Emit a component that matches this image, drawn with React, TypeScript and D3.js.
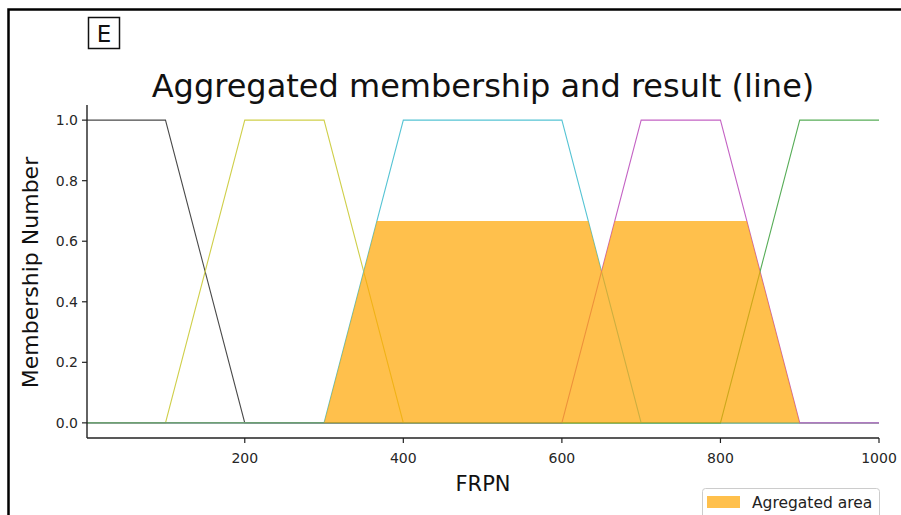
import React from "react";
import * as d3 from "d3";

// Membership functions (FRPN universe)
const lowX = [1, 100, 200, 1000];
const lowY = [1, 1, 0, 0];
const lowMidX = [1, 100, 200, 300, 400, 1000];
const lowMidY = [0, 0, 1, 1, 0, 0];
const midX = [1, 300, 400, 600, 700, 1000];
const midY = [0, 0, 1, 1, 0, 0];
const highMidX = [1, 600, 700, 800, 900, 1000];
const highMidY = [0, 0, 1, 1, 0, 0];
const highX = [1, 800, 900, 1000];
const highY = [0, 0, 1, 1];

// Aggregated area
const aggX = [300, 366.7, 633.3, 650, 666.7, 833.3, 900];
const aggY = [0, 0.667, 0.667, 0.5, 0.667, 0.667, 0];

const xTicks = [200, 400, 600, 800, 1000];
const yTicks = [0, 0.2, 0.4, 0.6, 0.8, 1.0];

const series = [
  { xs: lowX, ys: lowY, color: "#4a4a4a" },
  { xs: lowMidX, ys: lowMidY, color: "#cfcf4a" },
  { xs: midX, ys: midY, color: "#56c4d4" },
  { xs: highMidX, ys: highMidY, color: "#c463c4" },
  { xs: highX, ys: highY, color: "#58ad58" },
];

export default function App() {
  const W = 901, H = 515;
  const left = 87, right = 879, top = 105, bottom = 438;
  const x = d3.scaleLinear().domain([1, 1000]).range([left, right]);
  const y = d3.scaleLinear().domain([-0.05, 1.05]).range([bottom, top]);
  const line = d3.line<[number, number]>().x((d) => x(d[0])).y((d) => y(d[1]));
  const area = d3
    .area<[number, number]>()
    .x((d) => x(d[0]))
    .y0(() => y(0))
    .y1((d) => y(d[1]));
  const font = "DejaVu Sans";
  const cx = (left + right) / 2;

  return (
    <svg
      width={W}
      height={H}
      style={{ position: "absolute", left: 0, top: 0, background: "#fff" }}
      fontFamily={font}
    >
      <rect x={0} y={0} width={W} height={H} fill="#fff" />
      {/* outer frame */}
      <rect x={8.5} y={9.5} width={1200} height={1200} fill="none" stroke="#000" strokeWidth={2.5} />
      {/* panel letter */}
      <rect x={88.5} y={17.5} width={31} height={31} fill="none" stroke="#111" strokeWidth={1.5} />
      <text x={104} y={42} fontSize={23} textAnchor="middle" fill="#111">E</text>
      {/* title */}
      <text x={cx} y={97} fontSize={32} textAnchor="middle" fill="#111">
        Aggregated membership and result (line)
      </text>
      {/* lines */}
      {series.map((s, i) => (
        <path
          key={i}
          d={line(s.xs.map((v, j) => [v, s.ys[j]] as [number, number])) || ""}
          fill="none"
          stroke={s.color}
          strokeWidth={1.1}
        />
      ))}
      {/* aggregated fill */}
      <path
        d={area(aggX.map((v, j) => [v, aggY[j]] as [number, number])) || ""}
        fill="orange"
        fillOpacity={0.7}
      />
      {/* spines */}
      <line x1={left} x2={left} y1={top} y2={bottom} stroke="#222" strokeWidth={1.4} />
      <line x1={left} x2={right} y1={bottom} y2={bottom} stroke="#222" strokeWidth={1.4} />
      {/* x ticks */}
      {xTicks.map((t) => (
        <g key={t}>
          <line x1={x(t)} x2={x(t)} y1={bottom} y2={bottom + 5} stroke="#222" strokeWidth={1.2} />
          <text x={x(t)} y={bottom + 25} fontSize={14} textAnchor="middle" fill="#262626">
            {t}
          </text>
        </g>
      ))}
      {/* y ticks */}
      {yTicks.map((t) => (
        <g key={t}>
          <line x1={left - 5} x2={left} y1={y(t)} y2={y(t)} stroke="#222" strokeWidth={1.2} />
          <text x={left - 9} y={y(t) + 5} fontSize={14} textAnchor="end" fill="#262626">
            {t.toFixed(1)}
          </text>
        </g>
      ))}
      {/* axis labels */}
      <text x={cx} y={491} fontSize={21} textAnchor="middle" fill="#111">FRPN</text>
      <text
        transform={`translate(38, ${(top + bottom) / 2 + 1}) rotate(-90)`}
        fontSize={22}
        textAnchor="middle"
        fill="#111"
      >
        Membership Number
      </text>
      {/* legend */}
      <rect x={702.5} y={488.5} width={177} height={40} rx={3} fill="#fff" fillOpacity={0.8} stroke="#ccc" />
      <rect x={707} y={496} width={33} height={12} fill="orange" fillOpacity={0.7} />
      <text x={752} y={508} fontSize={15.5} fill="#222">Agregated area</text>
    </svg>
  );
}
